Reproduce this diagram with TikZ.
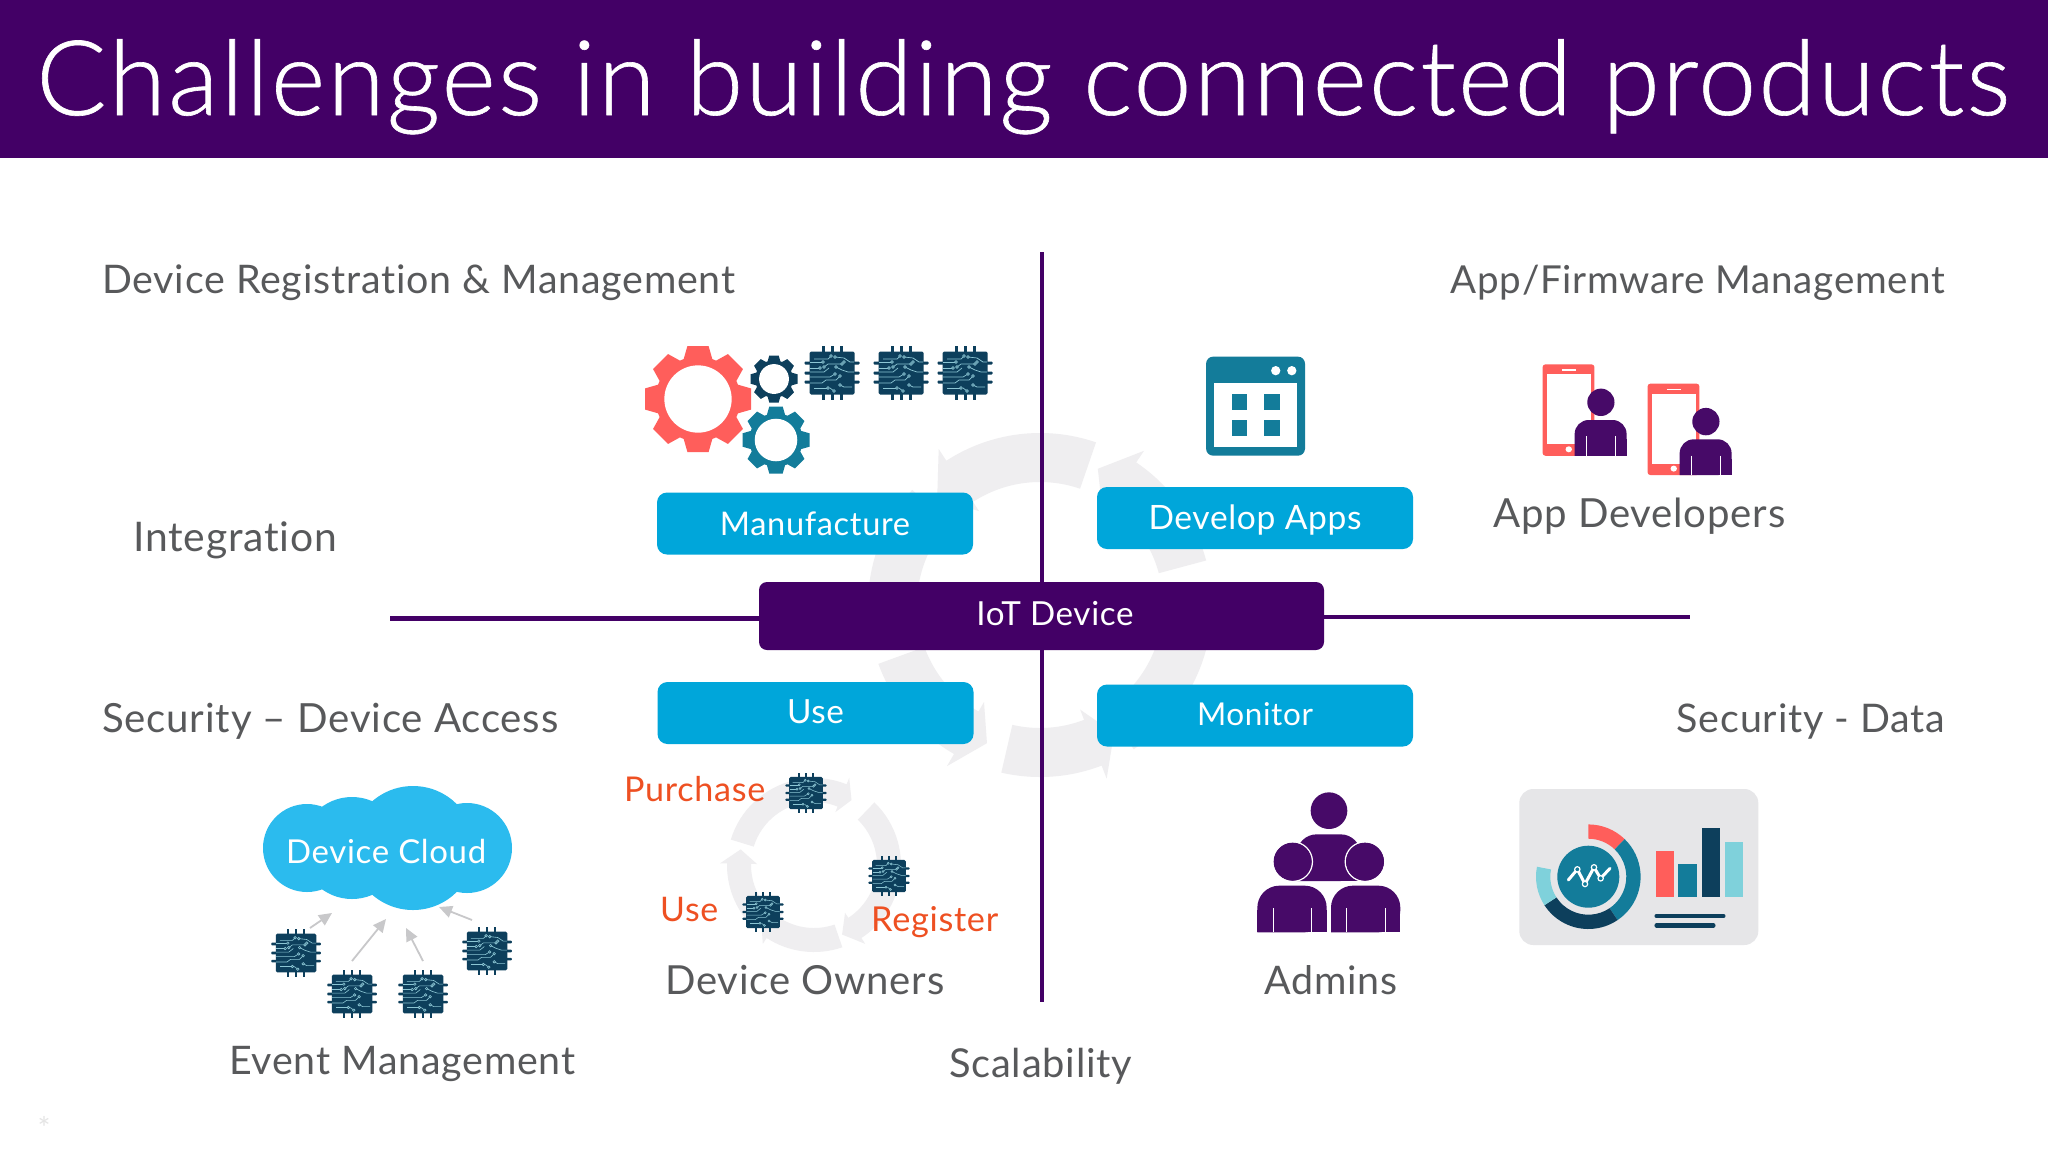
\documentclass[tikz,border=0pt]{standalone}
\usepackage{fontspec}
\usepackage{graphicx}
\setmainfont[LetterSpace=2,Ligatures=NoCommon]{Lato}
\newfontfamily\lightfont[LetterSpace=2,Ligatures=NoCommon,FakeBold=0.6]{Lato Light}
\usetikzlibrary{arrows.meta}
\definecolor{brandpurple}{HTML}{430066}
\definecolor{iconpurple}{HTML}{470A68}
\definecolor{boxblue}{HTML}{00A6DA}
\definecolor{cloudblue}{HTML}{2BBBEE}
\definecolor{coral}{HTML}{FF5E5B}
\definecolor{teal}{HTML}{137C9A}
\definecolor{chipdark}{HTML}{0D3F5C}
\definecolor{tracelight}{HTML}{8CC6D4}
\definecolor{lightaqua}{HTML}{7FD1DB}
\definecolor{labelgray}{HTML}{58595B}
\definecolor{orangelabel}{HTML}{EE5022}
\definecolor{arcgray}{HTML}{EFEEF0}
\definecolor{panelgray}{HTML}{E6E6E8}
\definecolor{arrowgray}{HTML}{C8C8CA}
\newcommand\tw[2]{\resizebox{#1pt}{!}{#2}}
\newcommand\lab[3]{\smash{\raisebox{-#2pt}{\resizebox{#1pt}{!}{#3}}}}
\tikzset{
  lbl/.style={text=labelgray,inner sep=0pt,anchor=base west},
  lbe/.style={text=labelgray,inner sep=0pt,anchor=base east},
  olbl/.style={text=orangelabel,inner sep=0pt,anchor=base west},
  stagebox/.style={fill=boxblue,text=white,rounded corners=10pt,inner sep=0pt,minimum width=316pt,minimum height=62pt},
  axisline/.style={draw=brandpurple,line width=4.5pt},
  cloudarrow/.style={draw=arrowgray,line width=1.8pt,-{Triangle[length=13pt,width=12pt]}}
}
\newcommand\chip[3]{%
\begin{scope}[shift={(#1,#2)},x=#3pt,y=-#3pt]
\fill[chipdark,rounded corners=1.5pt] (-22.5,-21.5) rectangle (22.5,21.5);
\foreach \q in {-10,0,9} {
  \fill[chipdark,rounded corners=.8pt] (-27.5,\q-1.5) rectangle (27.5,\q+1.5);
}
\foreach \q in {-9,0,9} {
  \fill[chipdark] (\q-1.5,-27) rectangle (\q+1.5,27);
}
\begin{scope}[draw=tracelight,line width=#3*0.7pt]
\draw (-18,-14) -- (-4,-14) -- (-1,-17);
\draw (-22,-11) -- (-9,-11);
\draw (3,-16) -- (12,-15) -- (18,-11) -- (22,-11);
\draw (-22,-5) -- (-12,-5);
\draw (-8,-6) -- (-4,-9) -- (10,-9);
\draw (-22,-1) -- (-8,-1) -- (-3,-5);
\draw (4,-6) -- (10,-3) -- (16,-1) -- (22,-1);
\draw (-22,4) -- (-2,4) -- (3,1);
\draw (-22,10) -- (-10,10) -- (-6,7) -- (4,7) -- (8,3);
\draw (-18,15) -- (-4,15);
\draw (2,18) -- (-2,15);
\draw (8,12) -- (12,14) -- (20,14);
\foreach \p/\r in {-1/-17,3/-16,12/-11,-9/-11,-12/-5,-8/-6,10/-9,4/-6,3/1,8/3,-4/15,2/18,8/12} {
  \filldraw[fill=chipdark] (\p,\r) circle (1.4);
}
\end{scope}
\end{scope}}
\newcommand\gear[4]{%
\begin{scope}[shift={(#1,#2)},x=#3pt,y=#3pt]
\fill[#4] (0,0) circle (0.8);
\foreach \a in {0,45,...,315} {
  \fill[#4,rotate=\a] (-.2,1) -- (.2,1) -- (.28,.72) -- (-.28,.72) -- cycle;
}
\fill[white] (0,0) circle (0.635);
\end{scope}}
\newcommand\phoneperson[2]{%
\begin{scope}[shift={(#1,#2)},x=1.0714pt]
\fill[coral,rounded corners=3pt] (0,0) rectangle (48.5,91.5);
\fill[white] (4,10) rectangle (45,80);
\draw[white,line width=1.2pt] (18,5.7) -- (31,5.7);
\fill[white] (24.5,85) circle (3);
\fill[iconpurple] (54.5,38) ellipse (12.7 and 13.7);
\fill[iconpurple,rounded corners=14pt] (30,91.5) -- (30,55.7) -- (78.5,55.7) -- (78.5,91.5) [sharp corners] -- cycle;
\fill[iconpurple] (30,75) rectangle (78.5,91.5);
\draw[white,line width=.5pt] (41,72) -- (41,91.5);
\draw[white,line width=.5pt] (67.5,72) -- (67.5,91.5);
\end{scope}}
\newcommand\seg[7]{%
\begin{scope}[shift={(#1,#2)},x=1pt,y=1pt]
\fill[#7] (#5:#4pt) arc[start angle=#5,end angle=#6,radius=#4pt] -- (#6:#3pt) arc[start angle=#6,end angle=#5,radius=#3pt] -- cycle;
\end{scope}}
\begin{document}
\begin{tikzpicture}[x=1pt,y=-1pt]
\useasboundingbox (0,0) rectangle (2048,1152);
\fill[white] (0,0) rectangle (2048,1152);
\fill[brandpurple] (0,0) rectangle (2048,158);
\node[text=white,inner sep=0pt,anchor=base west] (title) at (36,115) {\tw{1973}{\lightfont Challenges in building connected products}};

% large background cycle
\foreach \t/\b/\p in {15/56/67,71/123/134,138/188/196,200/240/249,257/291/300,303/352/5} {
  \begin{scope}[shift={(1040,605)},x=1pt,y=1pt]
  \fill[arcgray] (\t:172pt) arc[start angle=\t,end angle=\b,radius=172pt] -- (\b:186pt) -- (\p:148pt) -- (\b:112pt) -- (\b:123pt) arc[start angle=\b,end angle=\t,radius=123pt] -- cycle;
  \end{scope}
}
% small cycle
\foreach \t/\b/\p in {163/68/60,46/-57/-68,-71/-123/-135,220/179/168} {
  \begin{scope}[shift={(814,865)},x=1pt,y=1pt]
  \fill[arcgray] (\t:87pt) arc[start angle=\t,end angle=\b,radius=87pt] -- (\b:94pt) -- (\p:75pt) -- (\b:57pt) -- (\b:63pt) arc[start angle=\b,end angle=\t,radius=63pt] -- cycle;
  \end{scope}
}

% axes and centre
\node[fill=brandpurple,text=white,rounded corners=8pt,inner sep=0pt,minimum width=565pt,minimum height=68pt] (iot) at (1041.5,616) {\hspace*{27pt}\lab{157}{9.5}{IoT Device}};
\coordinate (vtop) at (1042,252);
\coordinate (vbot) at (1042,1002);
\coordinate (hleft) at (390,618.5);
\coordinate (hright) at (1690,617);
\draw[axisline] (vtop) -- (vtop |- iot.north);
\draw[axisline] (vbot |- iot.south) -- (vbot);
\draw[axisline] (hleft) -- (hleft -| iot.west);
\draw[axisline] (hright -| iot.east) -- (hright);

% stage boxes
\node[stagebox] (manufacture) at (815,523.5) {\lab{190}{11.5}{Manufacture}};
\node[stagebox] (develop) at (1255,518) {\lab{213}{11.5}{Develop Apps}};
\node[stagebox] (use) at (815.5,713) {\lab{57}{10.5}{Use}};
\node[stagebox] (monitor) at (1255,715.5) {\lab{116}{10}{Monitor}};

% quadrant labels
\node[lbl] (devreg) at (102,293) {\tw{633}{Device Registration \& Management}};
\node[lbe] (appfw) at (1945,293) {\tw{494}{App/Firmware Management}};
\node[lbl] (integration) at (133,551) {\tw{204}{Integration}};
\node[lbl] (secaccess) at (102,732) {\tw{456}{Security – Device Access}};
\node[lbe] (secdata) at (1945,732) {\tw{268}{Security - Data}};
\node[lbl] (appdevs) at (1493,527) {\tw{292}{App Developers}};
\node[lbl] (owners) at (665,994) {\tw{279}{Device Owners}};
\node[lbl] (admins) at (1264,994) {\tw{133}{Admins}};
\node[lbl] (events) at (229,1074) {\tw{346}{Event Management}};
\node[lbl] (scal) at (949,1077) {\tw{183}{Scalability}};
\node[olbl] (purchase) at (624,801) {\tw{141}{Purchase}};
\node[olbl] (usel) at (660,921) {\tw{58}{Use}};
\node[olbl] (register) at (871,931) {\tw{127}{Register}};
\node[text=black!10,inner sep=0pt] (star) at (44,1128) {\tw{13}{*}};

% gears and top chips
\gear{698}{399}{53}{coral}
\gear{774}{379}{23.5}{chipdark}
\gear{776}{440}{33.5}{teal}
\chip{832}{373}{1}
\chip{901}{373}{1}
\chip{965}{373}{1}

% window icon
\begin{scope}[shift={(1180,340)},x=.35714pt,y=-.3333pt]
\fill[teal,rounded corners=7pt] (73,50) rectangle (350,347);
\fill[white] (94,128) rectangle (328,320);
\fill[white] (268,92) ellipse (13 and 14);
\fill[white] (313,92) ellipse (13 and 14);
\fill[teal] (145,163) rectangle (188,210);
\fill[teal] (235,163) rectangle (280,210);
\fill[teal] (145,240) rectangle (188,287);
\fill[teal] (235,240) rectangle (280,287);
\end{scope}

% phones
\phoneperson{1542.5}{364.3}
\phoneperson{1647.5}{383.6}

% cloud
\fill[cloudblue] (307,848) circle (44);
\fill[cloudblue] (352,848) circle (51);
\fill[cloudblue] (413,848) circle (62);
\fill[cloudblue] (467,848) circle (45);
\node[text=white,inner sep=0pt,anchor=base west] (cloud) at (286,863) {\tw{200}{Device Cloud}};
\chip{296}{953}{.9}
\chip{352}{994}{.9}
\chip{423}{994}{.9}
\chip{487}{951}{.9}
\coordinate (c1a) at (310,928); \coordinate (c1b) at (332,913);
\coordinate (c2a) at (352,961); \coordinate (c2b) at (386,919);
\coordinate (c3a) at (423,961); \coordinate (c3b) at (406,928);
\coordinate (c4a) at (472,920); \coordinate (c4b) at (439,907);
\draw[cloudarrow] (c1a) -- (c1b);
\draw[cloudarrow] (c2a) -- (c2b);
\draw[cloudarrow] (c3a) -- (c3b);
\draw[cloudarrow] (c4a) -- (c4b);

% owner chips
\chip{806}{793}{.75}
\chip{889}{876}{.75}
\chip{763}{912}{.75}

% admins
\begin{scope}[shift={(1230,770)},x=.3333pt,y=-.3333pt]
\fill[iconpurple] (297,122) circle (55);
\fill[iconpurple,rounded corners=20pt] (200,333) -- (200,193) -- (392,193) -- (392,333) [sharp corners] -- cycle;
\fill[iconpurple] (200,260) rectangle (392,333);
\filldraw[fill=iconpurple,draw=white,line width=1.5pt] (188,275) circle (59);
\filldraw[fill=iconpurple,draw=white,line width=1.5pt] (405,275) circle (59);
\fill[iconpurple] (188,275) circle (57);
\fill[iconpurple] (405,275) circle (57);
\foreach \l in {82,303} {
  \fill[iconpurple,rounded corners=22pt] (\l,487) -- (\l,347) -- (\l+208,347) -- (\l+208,487) [sharp corners] -- cycle;
  \fill[iconpurple] (\l,420) rectangle (\l+208,487);
  \draw[white,line width=.8pt] (\l+47,415) -- (\l+47,487);
  \draw[white,line width=.8pt] (\l+162,415) -- (\l+162,487);
}
\end{scope}

% dashboard
\fill[panelgray,rounded corners=14pt] (1519.3,789) rectangle (1758.3,945);
\seg{1588.3}{876.7}{38}{52.3}{46}{90}{coral}
\seg{1588.3}{876.7}{38}{52.3}{-56}{46}{teal}
\seg{1588.3}{876.7}{38}{52.3}{-147}{-56}{chipdark}
\seg{1588.3}{876.7}{38}{52.3}{-191}{-147}{lightaqua}
\fill[teal] (1588.3,876.7) circle (31);
\begin{scope}[shift={(1500,780)},x=.3333pt,y=-.3333pt]
\draw[white,line width=3pt,line cap=round,line join=round] (205,300) -- (232,268) -- (255,312) -- (282,262) -- (302,295) -- (330,265);
\foreach \p in {(232,268),(255,312),(282,262),(302,295)} {
  \filldraw[fill=teal,draw=white,line width=1.2pt] \p circle (8);
}
\fill[coral] (467,212) rectangle (521,350);
\fill[teal] (535,253) rectangle (590,350);
\fill[chipdark] (605,143) rectangle (660,350);
\fill[lightaqua] (675,185) rectangle (730,350);
\draw[chipdark,line width=4.5pt,line cap=round] (470,408) -- (670,408);
\draw[chipdark,line width=4.5pt,line cap=round] (470,436) -- (640,436);
\end{scope}
\end{tikzpicture}
\end{document}
